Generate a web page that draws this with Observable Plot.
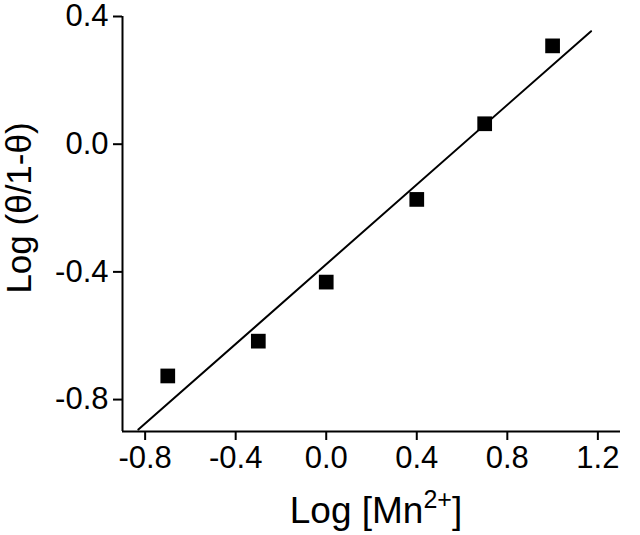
<!DOCTYPE html>
<html>
<head>
<meta charset="utf-8">
<script src="https://cdn.jsdelivr.net/npm/d3@7"></script>
<script src="https://cdn.jsdelivr.net/npm/@observablehq/plot@0.6"></script>
<style>
  html, body { margin: 0; padding: 0; background: #fff; }
  svg { display: block; }
</style>
</head>
<body>
<div id="chart"></div>
<script>
// Data
const logMn = [-0.7, -0.3, 0.0, 0.4, 0.7, 1.0];
const logTheta = [-0.726, -0.617, -0.432, -0.173, 0.064, 0.308];
// Fitted line endpoints (as drawn in the reference)
const fitX = [-0.83, 1.17];
const fitY = [-0.894, 0.354];
const xTicks = [-0.8, -0.4, 0.0, 0.4, 0.8, 1.2];
const yTicks = [-0.8, -0.4, 0.0, 0.4];
const xTitle = "Log [Mn";
const xTitleSup = "2+";
const xTitleEnd = "]";
const yTitle = "Log (θ/1-θ)";

const points = logMn.map((x, i) => ({x, y: logTheta[i]}));
const fit = fitX.map((x, i) => ({x, y: fitY[i]}));

const font = "'Liberation Sans', Arial, Helvetica, sans-serif";
const fmt = d => d3.format(".1f")(d).replace("\u2212", "-");

const chart = Plot.plot({
  width: 640,
  height: 535,
  marginLeft: 122,
  marginRight: 20,
  marginTop: 16,
  marginBottom: 104,
  style: {fontFamily: font, color: "#000", background: "#fff"},
  x: {domain: [-0.9, 1.3]},
  y: {domain: [-0.9, 0.4]},
  marks: [
    Plot.ruleX([-0.9], {stroke: "#000", strokeWidth: 2}),
    Plot.ruleY([-0.9], {stroke: "#000", strokeWidth: 2}),
    Plot.axisX({ticks: xTicks, tickSize: 9, tickPadding: 5, tickFormat: fmt,
      fontSize: 31, strokeWidth: 2, label: null, stroke: "#000", color: "#000"}),
    Plot.axisY({ticks: yTicks, tickSize: 9, tickPadding: 5, tickFormat: fmt,
      fontSize: 31, strokeWidth: 2, label: null, stroke: "#000", color: "#000"}),
    Plot.line(fit, {x: "x", y: "y", stroke: "#000", strokeWidth: 2}),
    Plot.dot(points, {x: "x", y: "y", symbol: "square", r: 8.3, fill: "#000", stroke: "none"})
  ]
});

document.getElementById("chart").appendChild(chart);

// Axis titles (with superscript)
const svg = d3.select(chart);
const xt = svg.append("text")
  .attr("x", 376)
  .attr("y", 523)
  .attr("text-anchor", "middle")
  .attr("font-family", font)
  .attr("font-size", 37)
  .attr("fill", "#000");
xt.append("tspan").text(xTitle);
xt.append("tspan").attr("font-size", 25).attr("dy", -15).text(xTitleSup);
xt.append("tspan").attr("dy", 15).text(xTitleEnd);

svg.append("text")
  .attr("transform", "translate(31,208) rotate(-90)")
  .attr("text-anchor", "middle")
  .attr("font-family", font)
  .attr("font-size", 35)
  .attr("fill", "#000")
  .text(yTitle);
</script>
</body>
</html>
